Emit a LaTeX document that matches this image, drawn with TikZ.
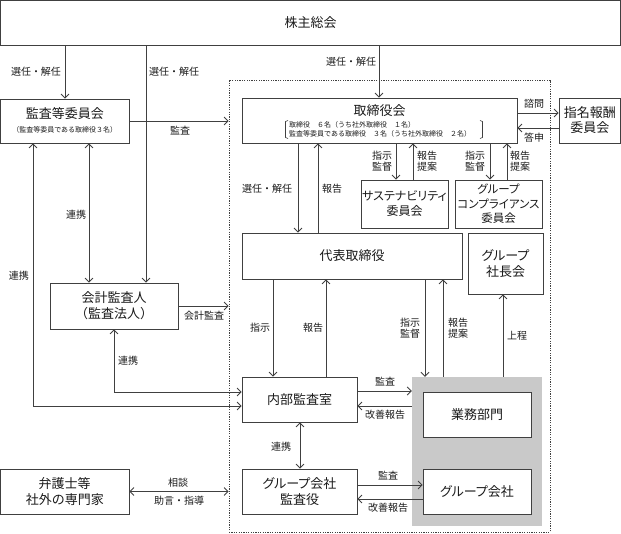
\documentclass[tikz,border=0pt]{standalone}
\usepackage{fontspec}
\setmainfont{Noto Sans CJK JP}
\newfontfamily\jpp{Noto Sans CJK JP}[RawFeature=+palt]
\usetikzlibrary{arrows.meta}
\definecolor{lc}{HTML}{404040}
\definecolor{tc}{HTML}{1A1A1A}
\definecolor{gfill}{HTML}{C9C9C9}
\tikzset{
  box/.style={draw=lc, line width=0.8pt, fill=white, inner sep=0pt, align=center, text=tc,
    font=\fontsize{13}{15.5}\selectfont},
  kbox/.style={box, font=\jpp\fontsize{12}{15}\selectfont},
  arr/.style={draw=lc, line width=0.8pt, -{Straight Barb[length=4pt,width=8pt]}},
  darr/.style={draw=lc, line width=0.8pt, {Straight Barb[length=4pt,width=8pt]}-{Straight Barb[length=4pt,width=8pt]}},
  lbl/.style={inner sep=0pt, text=tc, align=center, font=\fontsize{10}{12}\selectfont},
  tiny/.style={inner sep=0pt, text=tc, anchor=west, font=\fontsize{7}{8}\selectfont},
}
\begin{document}
\begin{tikzpicture}[x=1pt,y=-1pt]
\useasboundingbox (0,0) rectangle (621,534);
% background regions
\node[draw=lc, line width=0.8pt, dash pattern=on 1.2pt off 1.2pt, minimum width=321pt, minimum height=452pt, inner sep=0pt] (frame) at (389.5,306) {};
\node[fill=gfill, minimum width=130pt, minimum height=149pt, inner sep=0pt] (gray) at (477,451.5) {};
% boxes
\node[box, minimum width=620pt, minimum height=44.5pt] (top) at (310.5,22.75) {};
\node[text=tc, font=\fontsize{13}{15}\selectfont] at (310.5,22.75) {株主総会};
\node[box, minimum width=128.5pt, minimum height=44pt] (kansa) at (64.75,121) {};
\node[text=tc, inner sep=0pt, font=\fontsize{13}{15}\selectfont] at (64.75,114) {監査等委員会};
\node[text=tc, inner sep=0pt, font=\fontsize{7}{8}\selectfont] at (64.75,130) {（監査等委員である取締役３名）};
\node[box, minimum width=275pt, minimum height=45pt] (board) at (379.5,120.5) {};
\node[text=tc, inner sep=0pt, font=\fontsize{13}{15}\selectfont] at (379.5,110.5) {取締役会};
\node[tiny] at (289,124.5) {取締役\quad ６名（うち社外取締役\quad １名）};
\node[tiny] at (289,134) {監査等委員である取締役\quad ３名（うち社外取締役\quad ２名）};
\draw[lc, line width=0.6pt] (288,120.5) -- (285.5,121.5) -- (285.5,137.5) -- (288,138.5);
\draw[lc, line width=0.6pt] (480,120.5) -- (482.5,121.5) -- (482.5,137.5) -- (480,138.5);
\node[box, minimum width=61.5pt, minimum height=45pt, font=\fontsize{13}{15}\selectfont] (nomi) at (589.75,120.5) {指名報酬\\委員会};
\node[kbox, minimum width=87pt, minimum height=48pt] (sus) at (404.5,204) {サステナビリティ\\委員会};
\node[kbox, minimum width=87pt, minimum height=48pt, font=\jpp\fontsize{11.5}{14.5}\selectfont] (comp) at (498.5,204) {グループ\\コンプライアンス\\委員会};
\node[box, minimum width=220pt, minimum height=46pt] (rep) at (352,256) {代表取締役};
\node[kbox, minimum width=75pt, minimum height=61pt, font=\jpp\fontsize{13}{16.5}\selectfont] (pres) at (505.5,263.5) {グループ\\社長会};
\node[box, minimum width=128pt, minimum height=46pt, font=\fontsize{13}{16}\selectfont] (kaikei) at (114,306) {会計監査人\\（監査法人）};
\node[box, minimum width=115pt, minimum height=45pt] (naibu) at (299.5,399.5) {内部監査室};
\node[box, minimum width=108pt, minimum height=45pt] (gyomu) at (477,414.5) {業務部門};
\node[box, minimum width=128.5pt, minimum height=45pt, font=\fontsize{13}{15.5}\selectfont] (lawyer) at (64.75,491.5) {弁護士等\\社外の専門家};
\node[kbox, minimum width=115pt, minimum height=45pt, font=\jpp\fontsize{13}{15.5}\selectfont] (gkansa) at (299.5,491.5) {グループ会社\\監査役};
\node[kbox, minimum width=108pt, minimum height=45pt, font=\jpp\fontsize{13}{15.5}\selectfont] (gco) at (477,491.5) {グループ会社};
% connectors from top
\draw[arr] (65,0 |- top.south) -- (65,0 |- kansa.north);
\draw[arr] (146,0 |- top.south) -- (146,0 |- kaikei.north);
\draw[arr] (379,0 |- top.south) -- (379,0 |- board.north);
\node[lbl] at (36,72) {選任・解任};
\node[lbl] at (174,72) {選任・解任};
\node[lbl] at (351,62) {選任・解任};
% kansa
\draw[arr] (kansa.east) -- (kansa.east -| frame.west);
\node[lbl] at (180,131) {監査};
\draw[darr] (89,0 |- kansa.south) -- (89,0 |- kaikei.north);
\node[lbl] at (76,215) {連携};
\draw[darr] (33,0 |- kansa.south) |- (naibu.west |- 0,406);
\node[lbl] at (19,276) {連携};
% board - nomi
\draw[arr] (board.east |- 0,113) -- (nomi.west |- 0,113);
\node[lbl] at (534,104) {諮問};
\draw[arr] (nomi.west |- 0,128) -- (board.east |- 0,128);
\node[lbl] at (534,138) {答申};
% board - rep
\draw[arr] (298,0 |- board.south) -- (298,0 |- rep.north);
\node[lbl] at (267,189) {選任・解任};
\draw[arr] (318,0 |- rep.north) -- (318,0 |- board.south);
\node[lbl] at (332,189) {報告};
% board - committees
\draw[arr] (396,0 |- board.south) -- (396,0 |- sus.north);
\draw[arr] (413,0 |- sus.north) -- (413,0 |- board.south);
\node[lbl, font=\fontsize{10}{11}\selectfont] at (382,161.5) {指示\\監督};
\node[lbl, font=\fontsize{10}{11}\selectfont] at (427,161.5) {報告\\提案};
\draw[arr] (490,0 |- board.south) -- (490,0 |- comp.north);
\draw[arr] (507,0 |- comp.north) -- (507,0 |- board.south);
\node[lbl, font=\fontsize{10}{11}\selectfont] at (475,161.5) {指示\\監督};
\node[lbl, font=\fontsize{10}{11}\selectfont] at (520,161.5) {報告\\提案};
% kaikei
\draw[arr] (kaikei.east) -- (kaikei.east -| frame.west);
\node[lbl] at (204,316) {会計監査};
\draw[darr] (114,0 |- kaikei.south) |- (naibu.west |- 0,392);
\node[lbl] at (128,361) {連携};
% rep - naibu
\draw[arr] (273,0 |- rep.south) -- (273,0 |- naibu.north);
\node[lbl] at (260,328) {指示};
\draw[arr] (326,0 |- naibu.north) -- (326,0 |- rep.south);
\node[lbl] at (313,328) {報告};
% rep - gray
\draw[arr] (425,0 |- rep.south) -- (425,0 |- gray.north);
\node[lbl, font=\fontsize{10}{11}\selectfont] at (410,328.5) {指示\\監督};
\draw[arr] (443,0 |- gray.north) -- (443,0 |- rep.south);
\node[lbl, font=\fontsize{10}{11}\selectfont] at (458,328.5) {報告\\提案};
\draw[arr] (503,0 |- gray.north) -- (503,0 |- pres.south);
\node[lbl] at (517,336) {上程};
% naibu - gray
\draw[arr] (naibu.east |- 0,391) -- (gray.west |- 0,391);
\node[lbl] at (385,382) {監査};
\draw[arr] (gray.west |- 0,406) -- (naibu.east |- 0,406);
\node[lbl] at (385,415) {改善報告};
% naibu - gkansa
\draw[darr] (300,0 |- naibu.south) -- (300,0 |- gkansa.north);
\node[lbl] at (281,447) {連携};
% gkansa - gco
\draw[arr] (gkansa.east |- 0,485) -- (gco.west |- 0,485);
\node[lbl] at (388,476) {監査};
\draw[arr] (gco.west |- 0,499) -- (gkansa.east |- 0,499);
\node[lbl] at (388,508) {改善報告};
% lawyer
\draw[darr] (lawyer.east) -- (lawyer.east -| frame.west);
\node[lbl] at (178,483) {相談};
\node[lbl] at (179,501) {助言・指導};
\end{tikzpicture}
\end{document}
